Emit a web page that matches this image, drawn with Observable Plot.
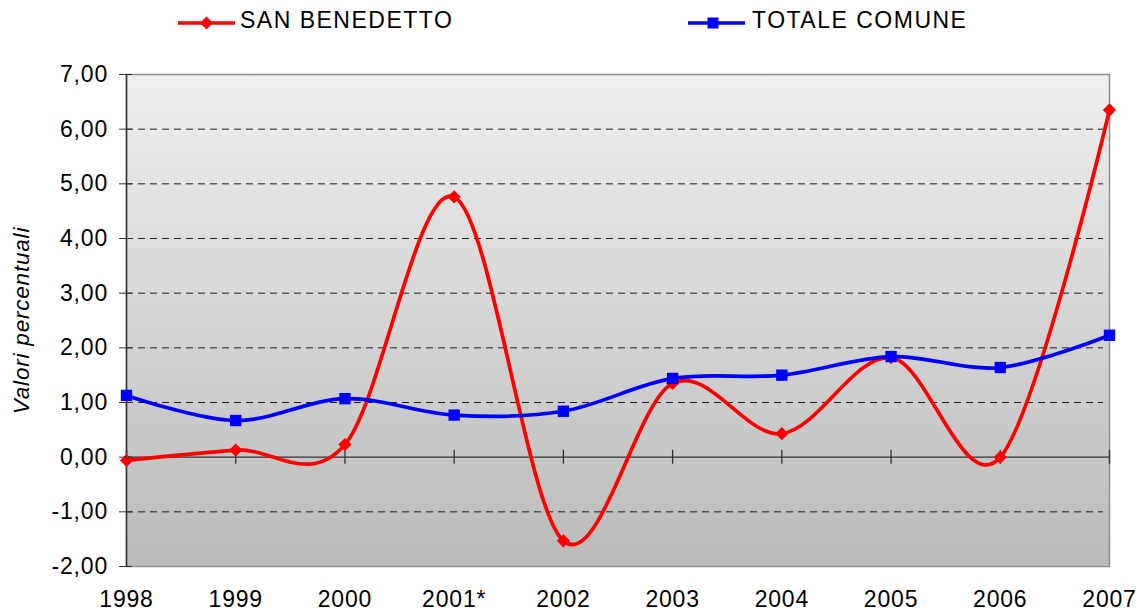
<!DOCTYPE html>
<html>
<head>
<meta charset="utf-8">
<script src="https://cdn.jsdelivr.net/npm/d3@7"></script>
<script src="https://cdn.jsdelivr.net/npm/@observablehq/plot@0.6"></script>
<style>
  body { margin: 0; background: #fff; font-family: "Liberation Sans", Arial, sans-serif; }
  #wrap { position: relative; width: 1146px; height: 612px; overflow: hidden; }
  .swatch { position: absolute; top: 13px; }
  .legtext { position: absolute; top: 9px; font-size: 23px; line-height: 23px; letter-spacing: 1.5px; color: #000; white-space: nowrap; }
  #chart { position: absolute; top: 40px; left: 0; }
</style>
</head>
<body>
<div id="wrap">
  <div id="legend"></div>
  <div id="chart"></div>
</div>
<script>
// ---- data ----
const years = ["1998", "1999", "2000", "2001*", "2002", "2003", "2004", "2005", "2006", "2007"];
const sanBenedetto = [-0.06, 0.13, 0.23, 4.76, -1.53, 1.35, 0.43, 1.82, 0.00, 6.35];
const totaleComune = [1.13, 0.67, 1.07, 0.77, 0.84, 1.44, 1.50, 1.84, 1.64, 2.23];
const seriesNames = ["SAN BENEDETTO", "TOTALE COMUNE"];
const seriesColors = ["#ff0000", "#0000ff"];
const yTicks = [-2, -1, 0, 1, 2, 3, 4, 5, 6, 7];
const gridValues = [-1, 1, 2, 3, 4, 5, 6];
const yTitle = "Valori percentuali";

// ---- table built from the arrays ----
const idx = years.map((_, i) => i);
const rows = years.map((year, i) => ({ i, year, san: sanBenedetto[i], tot: totaleComune[i] }));
const fmt = d => d.toFixed(2).replace(".", ",");

// ---- legend ----
const legend = document.getElementById("legend");
const legendItems = [
  { name: seriesNames[0], color: seriesColors[0], shape: "diamond", left: 178, textLeft: 240 },
  { name: seriesNames[1], color: seriesColors[1], shape: "square", left: 688, textLeft: 752 }
];
const NS = "http://www.w3.org/2000/svg";
for (const it of legendItems) {
  const s = document.createElementNS(NS, "svg");
  s.setAttribute("class", "swatch");
  s.setAttribute("width", 58);
  s.setAttribute("height", 20);
  s.style.left = it.left + "px";
  const ln = document.createElementNS(NS, "line");
  ln.setAttribute("x1", 0); ln.setAttribute("x2", 57);
  ln.setAttribute("y1", 10); ln.setAttribute("y2", 10);
  ln.setAttribute("stroke", it.color); ln.setAttribute("stroke-width", 3.5);
  s.appendChild(ln);
  if (it.shape === "diamond") {
    const p = document.createElementNS(NS, "polygon");
    p.setAttribute("points", "28.5,3.5 35,10 28.5,16.5 22,10");
    p.setAttribute("fill", it.color);
    s.appendChild(p);
  } else {
    const r = document.createElementNS(NS, "rect");
    r.setAttribute("x", 19.5); r.setAttribute("y", 4.5);
    r.setAttribute("width", 11); r.setAttribute("height", 11);
    r.setAttribute("fill", it.color);
    s.appendChild(r);
  }
  legend.appendChild(s);
  const t = document.createElement("div");
  t.className = "legtext";
  t.style.left = it.textLeft + "px";
  t.textContent = it.name;
  legend.appendChild(t);
}

// ---- chart ----
const chart = Plot.plot({
  width: 1146,
  height: 572,
  marginLeft: 126,
  marginRight: 37,
  marginTop: 34,
  marginBottom: 46,
  style: { fontFamily: "'Liberation Sans', Arial, sans-serif", fontSize: "23px", color: "#000", background: "transparent", letterSpacing: "0.8px" },
  x: { type: "linear", domain: [0, years.length - 1] },
  y: { domain: [-2, 7] },
  marks: [
    Plot.frame({ fill: "url(#bgGrad)", stroke: "#8f8f8f", strokeWidth: 1.5 }),
    Plot.ruleY(gridValues, { stroke: "#000", strokeWidth: 1, strokeDasharray: "7,5", strokeOpacity: 0.85, insetRight: 6 }),
    Plot.ruleY([0], { stroke: "#333", strokeWidth: 1.3 }),
    Plot.ruleX(idx, { y1: 0, y2: 0, insetTop: -7, insetBottom: -7, stroke: "#333", strokeWidth: 1.3 }),
    Plot.ruleX([0], { stroke: "#333", strokeWidth: 1.5 }),
    Plot.line(rows, { x: "i", y: "san", stroke: seriesColors[0], strokeWidth: 3.7, curve: "cardinal" }),
    Plot.dot(rows, { x: "i", y: "san", symbol: "diamond2", r: 6, fill: seriesColors[0], stroke: "none" }),
    Plot.line(rows, { x: "i", y: "tot", stroke: seriesColors[1], strokeWidth: 3.7, curve: "cardinal" }),
    Plot.dot(rows, { x: "i", y: "tot", symbol: "square", r: 6.4, fill: seriesColors[1], stroke: "none" }),
    Plot.axisX({ ticks: idx, tickFormat: i => years[i], tickSize: 0, tickPadding: 24, label: null }),
    Plot.axisY({ ticks: yTicks, tickFormat: fmt, tickSize: 13, dx: 6, tickPadding: 11.5, label: null, stroke: "#333" }),
    Plot.text([yTitle], { frameAnchor: "left", textAnchor: "middle", dx: -105, rotate: -90, fontStyle: "italic", fontSize: 22.5, fill: "#000" })
  ]
});

// gradient for the plot area background
const defs = d3.select(chart).insert("defs", ":first-child");
const grad = defs.append("linearGradient")
  .attr("id", "bgGrad").attr("x1", 0).attr("y1", 0).attr("x2", 0).attr("y2", 1);
grad.append("stop").attr("offset", "0%").attr("stop-color", "#efefef");
grad.append("stop").attr("offset", "100%").attr("stop-color", "#bababa");

document.getElementById("chart").appendChild(chart);
</script>
</body>
</html>
